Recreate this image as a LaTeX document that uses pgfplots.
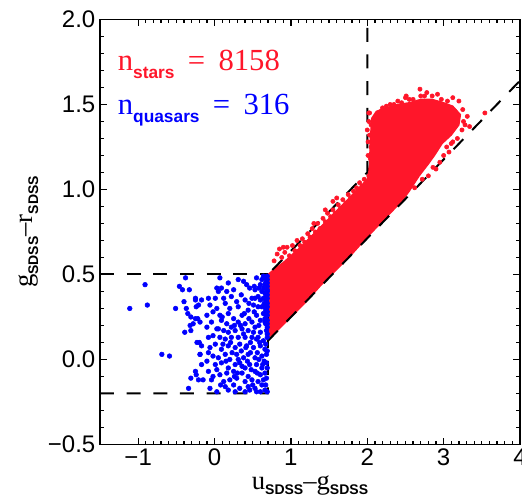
\documentclass[border=0pt]{standalone}
\usepackage{fontspec}
\setmainfont{Liberation Sans}
\newfontfamily\serifface{Liberation Serif}
\usepackage{pgfplots}
\pgfplotsset{compat=1.18}
\definecolor{starred}{RGB}{255,22,42}
\definecolor{qsoblue}{RGB}{0,0,255}
\newcommand{\sub}[1]{\raisebox{-3.8pt}{\fontsize{10.5}{10.5}\selectfont\bfseries #1}}
\newcommand{\bigsub}[1]{\raisebox{-6pt}{\fontsize{13}{13}\selectfont\bfseries #1}}
\begin{document}
\begin{tikzpicture}
\begin{axis}[
  scale only axis, width=315pt, height=318.75pt,
  xmin=-1.5, xmax=4, ymin=-0.5, ymax=2.0,
  xtick={-1,0,1,2,3,4}, xticklabels={−1,0,1,2,3,4},
  ytick={-0.5,0,0.5,1,1.5,2}, yticklabels={−0.5,0.0,0.5,1.0,1.5,2.0},
  minor x tick num=9, minor y tick num=4,
  tick align=inside,
  major tick length=5pt, minor tick length=2.8pt,
  tick style={black, line width=0.9pt},
  axis line style={line width=1.4pt},
  ticklabel style={font=\fontsize{18}{18}\selectfont},
  label style={font=\fontsize{20}{20}\selectfont},
  xlabel={{\serifface u}\sub{SDSS}{\serifface –}{\serifface g}\sub{SDSS}},
  ylabel={{\serifface g}\sub{SDSS}{\serifface –}{\serifface r}\sub{SDSS}},
  clip=true,
]
% quasars
\addplot[only marks, mark=*, mark size=1.75pt, color=qsoblue] coordinates {
(-0.91,0.44) (-0.38,0.48) (-0.46,0.43) (-0.42,0.41) (-0.33,0.41) (-1.11,0.30) (-0.88,0.32)
(-0.51,0.30) (-0.40,0.34) (-0.37,0.30) (-0.35,0.27) (-0.31,0.25) (-0.25,0.35) (-0.24,0.31)
(-0.22,0.24) (-0.28,0.21) (-0.32,0.20) (-0.31,0.17) (-0.39,0.16) (-0.20,0.10) (-0.69,0.03)
(-0.59,0.02) (-0.19,0.03) (-0.24,-0.09) (-0.31,-0.11) (-0.21,-0.12) (-0.34,-0.17)
(0.07,0.48) (0.18,0.45) (0.31,0.47) (0.38,0.46) (0.55,0.48) (0.52,0.43) (0.60,0.44) (0.64,0.42) (0.68,0.47) (0.69,0.45)
(0.03,0.42) (0.09,0.42) (0.05,0.40) (0.16,0.40) (0.25,0.41) (0.46,0.42) (0.53,0.41) (0.62,0.40) (0.66,0.39) (0.69,0.41)
(-0.25,0.36) (-0.17,0.35) (-0.08,0.36) (0.01,0.36) (0.12,0.36) (0.22,0.37) (0.29,0.34) (0.40,0.35) (0.49,0.36) (0.57,0.37) (0.64,0.36) (0.68,0.34) (0.69,0.36)
(-0.21,0.32) (-0.06,0.32) (0.03,0.30) (0.14,0.33) (0.31,0.31) (0.51,0.32) (0.62,0.31) (0.68,0.30) (0.69,0.31)
(-0.25,0.24) (-0.10,0.26) (-0.02,0.28) (0.07,0.26) (0.18,0.27) (0.25,0.24) (0.36,0.26) (0.44,0.29) (0.55,0.26) (0.64,0.27) (0.69,0.26)
(-0.19,0.22) (-0.04,0.22) (0.09,0.23) (0.16,0.21) (0.22,0.19) (0.31,0.22) (0.40,0.21) (0.49,0.22) (0.60,0.23) (0.66,0.22) (0.69,0.21)
(-0.10,0.19) (0.05,0.18) (0.12,0.17) (0.18,0.16) (0.27,0.17) (0.36,0.18) (0.44,0.17) (0.53,0.19) (0.60,0.16) (0.68,0.17)
(-0.23,0.10) (-0.08,0.13) (-0.02,0.14) (0.07,0.13) (0.14,0.12) (0.22,0.13) (0.31,0.13) (0.40,0.13) (0.49,0.13) (0.57,0.13) (0.64,0.11) (0.69,0.13)
(-0.17,0.08) (-0.06,0.07) (0.01,0.09) (0.09,0.06) (0.18,0.08) (0.27,0.07) (0.33,0.09) (0.42,0.08) (0.51,0.07) (0.60,0.08) (0.66,0.06)
(-0.19,0.03) (-0.08,0.04) (-0.02,0.02) (0.05,0.01) (0.14,0.03) (0.20,0.00) (0.29,0.03) (0.38,0.01) (0.44,0.03) (0.53,0.01) (0.62,0.02) (0.68,0.03)
(-0.17,-0.03) (-0.10,-0.01) (0.01,-0.03) (0.09,-0.02) (0.18,-0.05) (0.27,-0.03) (0.33,-0.02) (0.40,-0.05) (0.46,-0.03) (0.55,-0.03) (0.62,-0.05) (0.68,-0.02)
(-0.25,-0.07) (-0.08,-0.07) (0.03,-0.06) (0.07,-0.09) (0.16,-0.08) (0.25,-0.07) (0.36,-0.08) (0.44,-0.10) (0.53,-0.07) (0.60,-0.09) (0.66,-0.08)
(-0.15,-0.12) (-0.04,-0.12) (0.12,-0.13) (0.20,-0.12) (0.29,-0.11) (0.40,-0.13) (0.49,-0.12) (0.57,-0.13) (0.64,-0.12)
(-0.06,-0.17) (0.14,-0.16) (0.25,-0.15) (0.33,-0.17) (0.44,-0.16) (0.53,-0.17) (0.62,-0.15) (0.66,-0.18)
(0.03,-0.19) (0.27,-0.19) (0.40,-0.19) (0.60,-0.19)
(0.66,0.48) (0.69,0.43) (0.67,0.37) (0.69,0.38) (0.65,0.33) (0.69,0.28) (0.66,0.24) (0.69,0.19) (0.69,0.15)
(0.67,0.09) (0.69,0.05) (0.65,-0.01) (0.69,-0.05) (0.68,-0.11) (0.67,-0.15) (0.69,-0.19) (0.69,0.49) (0.64,0.49)
(0.68,0.40) (0.67,0.45) (0.69,0.33) (0.68,0.26) (0.67,0.29) (0.69,0.23) (0.66,0.31) (0.68,0.35) (0.69,0.47) (0.66,0.44) (0.67,0.21) (0.69,0.40)
(0.35,0.05) (0.47,0.10) (0.56,0.04) (0.30,-0.08) (0.48,-0.06) (0.58,0.00) (0.38,0.15) (0.23,0.04) (0.43,-0.01) (0.51,0.16)
(0.21,0.10) (0.34,0.20) (0.45,0.24) (0.55,0.12) (0.58,0.20) (0.47,0.04) (0.36,-0.04) (0.26,-0.10) (0.50,-0.15)
(0.56,-0.08) (0.41,0.07) (0.31,0.00) (0.15,-0.01) (0.11,0.09) (0.52,0.28) (0.57,0.31) (0.35,0.38) (0.45,0.33)
(0.58,0.42) (0.62,0.47) (0.10,0.25) (0.20,0.30) (0.03,0.18) (-0.02,-0.10) (0.08,-0.15) (0.18,-0.18) (0.46,-0.18)
(0.55,-0.19) (0.63,-0.03) (0.59,0.10) (0.39,0.27) (0.26,0.20) (0.60,0.35) (0.53,0.36) (0.42,0.44)
};
% stars: dense core
\addplot[fill=starred, draw=starred, line width=1pt] coordinates {
(0.70,0.13) (0.80,0.16) (1.00,0.25) (1.20,0.34) (1.40,0.44) (1.60,0.53) (1.80,0.62) (2.00,0.72)
(2.15,0.79) (2.30,0.86) (2.45,0.93) (2.55,0.99) (2.68,1.08) (2.80,1.15) (2.88,1.20) (2.98,1.27)
(3.10,1.32) (3.20,1.38) (3.22,1.44) (3.12,1.49) (3.00,1.51) (2.85,1.53) (2.70,1.53) (2.55,1.51)
(2.40,1.50) (2.25,1.48) (2.12,1.46) (2.06,1.42) (2.04,1.30) (2.03,1.15) (2.00,1.06) (1.85,0.99)
(1.70,0.92) (1.50,0.83) (1.30,0.74) (1.10,0.65) (0.90,0.57) (0.78,0.53) (0.70,0.50)
} -- cycle;
% stars: scattered
\addplot[only marks, mark=*, mark size=1.6pt, color=starred] coordinates {
(0.78,0.58) (0.82,0.62) (0.85,0.65) (0.88,0.60) (0.92,0.63) (0.95,0.66) (0.98,0.61) (1.02,0.67)
(1.05,0.64) (1.08,0.70) (1.12,0.67) (1.15,0.71) (1.18,0.69) (1.22,0.74) (1.25,0.72) (1.28,0.77)
(1.32,0.75) (1.35,0.80) (1.38,0.77) (1.42,0.83) (1.45,0.81) (1.48,0.86) (1.52,0.84) (1.55,0.88)
(1.58,0.86) (1.62,0.91) (1.65,0.89) (1.68,0.94) (1.72,0.92) (1.75,0.97) (1.78,0.95) (1.82,0.99)
(1.86,1.01) (1.90,1.04) (1.93,1.02) (1.96,1.06) (1.60,0.95) (1.55,0.93) (1.45,0.88) (1.30,0.80) (0.90,0.66)
(2.02,1.40) (2.03,1.32) (2.05,1.25) (2.04,1.18) (2.06,1.12) (2.08,1.36) (2.10,1.42) (2.12,1.30)
(2.10,1.15) (2.14,1.44) (2.16,1.22) (2.18,1.46) (2.02,1.45) (2.05,1.38) (2.08,1.28) (2.13,1.37)
(2.07,1.20) (2.01,1.28) (2.04,1.10) (2.09,1.05) (2.00,1.35) (2.01,1.20) (2.02,1.08)
(2.30,1.50) (2.40,1.52) (2.50,1.54) (2.60,1.53) (2.69,1.59) (2.70,1.55) (2.75,1.55) (2.85,1.55)
(2.97,1.53) (3.05,1.52) (3.12,1.54) (3.20,1.52) (3.25,1.47) (3.31,1.43) (3.15,1.46) (3.26,1.40)
(3.28,1.38) (3.34,1.37) (3.54,1.45) (3.24,1.35) (3.18,1.30) (3.10,1.27) (3.04,1.25) (3.00,1.20)
(2.95,1.16) (3.07,1.22) (2.86,1.13) (2.90,1.12) (2.80,1.08) (2.72,1.06) (2.62,1.01) (3.12,1.28)
(2.45,1.51) (2.55,1.53) (2.35,1.50) (2.25,1.49) (2.20,1.48) (2.51,1.55) (2.03,1.45) (2.92,1.56) (2.78,1.57)
};
% selection boundaries
\addplot[black, line width=1.5pt, dash pattern=on 10.5pt off 9.5pt] coordinates {(-1.5,0.5) (0.7,0.5)};
\addplot[black, line width=1.5pt, dash pattern=on 10.5pt off 9.5pt] coordinates {(-1.5,-0.2) (0.7,-0.2) (0.7,0.5) (2.0,1.1) (2.0,2.0)};
\addplot[black, line width=1.5pt, dash pattern=on 10.5pt off 9.5pt] coordinates {(0.7,0.11) (4.0,1.64)};
\node[anchor=base west, text=starred, inner sep=0pt] at (axis cs:-1.27,1.70)
  {{\fontsize{23}{23}\selectfont\serifface n}\bigsub{stars}\hspace{10pt}{\fontsize{23}{23}\selectfont\serifface =\hspace{10pt}8158}};
\node[anchor=base west, text=qsoblue, inner sep=0pt] at (axis cs:-1.27,1.44)
  {{\fontsize{23}{23}\selectfont\serifface n}\bigsub{quasars}\hspace{10pt}{\fontsize{23}{23}\selectfont\serifface =\hspace{10pt}316}};
\end{axis}
\pgfresetboundingbox
\path ([shift={(-75pt,-43.5pt)}]current axis.south west) rectangle ([shift={(1.5pt,14.6pt)}]current axis.north east);
\end{tikzpicture}
\end{document}
